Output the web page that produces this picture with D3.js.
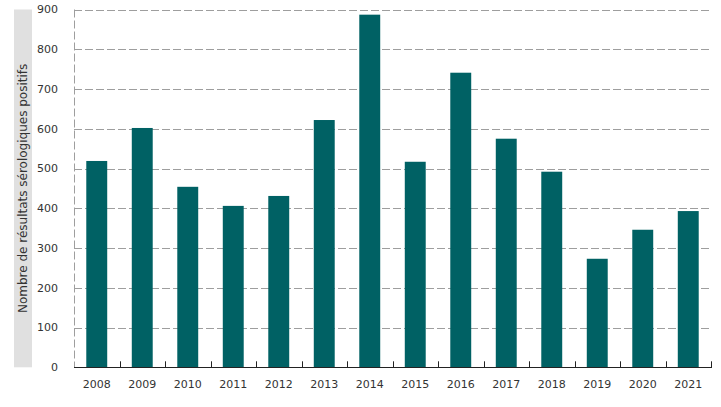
<!DOCTYPE html>
<html><head><meta charset="utf-8">
<script src="https://cdn.jsdelivr.net/npm/d3@7"></script>
<style>body{margin:0;background:#fff}svg{display:block;font-family:"DejaVu Sans",sans-serif}</style>
</head><body><svg id="c" width="721" height="407"></svg>
<script>
const years = ["2008","2009","2010","2011","2012","2013","2014","2015","2016","2017","2018","2019","2020","2021"];
const values = [519,602,454,406,431,622,887,517,741,575,492,273,346,393];
const yTicks = [0,100,200,300,400,500,600,700,800,900];
const yTitle = "Nombre de résultats sérologiques positifs";

const svg = d3.select("#c");
const L=74, R=711, T=9.5, B=367.3;
const x = d3.scaleBand().domain(years).range([L,R]).paddingInner(0.54).paddingOuter(0.27);
const y = d3.scaleLinear().domain([0,900]).range([B,T]);

// y title band
svg.append("rect").attr("x",14).attr("y",T).attr("width",18).attr("height",B-T).attr("fill","#e0e0e0");
svg.append("text").attr("transform",`translate(27,${(T+B)/2}) rotate(-90)`).attr("text-anchor","middle")
  .attr("font-size",12).attr("fill","#333").text(yTitle);

// grid
svg.append("g").selectAll("line").data(yTicks.filter(d=>d>0)).join("line")
  .attr("x1",L).attr("x2",R).attr("y1",d=>Math.round(y(d))+0.5).attr("y2",d=>Math.round(y(d))+0.5)
  .attr("stroke","#9e9e9e").attr("stroke-width",1).attr("stroke-dasharray","8,3");
svg.append("line").attr("x1",L+0.5).attr("x2",L+0.5).attr("y1",T).attr("y2",B)
  .attr("stroke","#9e9e9e").attr("stroke-dasharray","8,3");

// bars
svg.append("g").selectAll("rect").data(values).join("rect")
  .attr("x",(d,i)=>x(years[i])).attr("width",x.bandwidth())
  .attr("y",d=>y(d)).attr("height",d=>y(0)-y(d)).attr("fill","#006164");

// y labels
svg.append("g").selectAll("text").data(yTicks).join("text")
  .attr("x",58).attr("y",d=>y(d)).attr("dy","0.35em").attr("text-anchor","end")
  .attr("font-size",11).attr("fill","#333").text(d=>d);

// x axis
svg.append("line").attr("x1",L).attr("x2",R+1).attr("y1",Math.round(B)+0.5).attr("y2",Math.round(B)+0.5)
  .attr("stroke","#222").attr("stroke-width",1.2);
const step = x.step();
svg.append("g").selectAll("line").data(years).join("line")
  .attr("x1",(d,i)=>Math.round(L+step*(i+1))+0.5).attr("x2",(d,i)=>Math.round(L+step*(i+1))+0.5)
  .attr("y1",B-6).attr("y2",B).attr("stroke","#222");
svg.append("g").selectAll("text").data(years).join("text")
  .attr("x",d=>x(d)+x.bandwidth()/2).attr("y",388).attr("text-anchor","middle")
  .attr("font-size",11).attr("fill","#333").text(d=>d);
</script></body></html>
